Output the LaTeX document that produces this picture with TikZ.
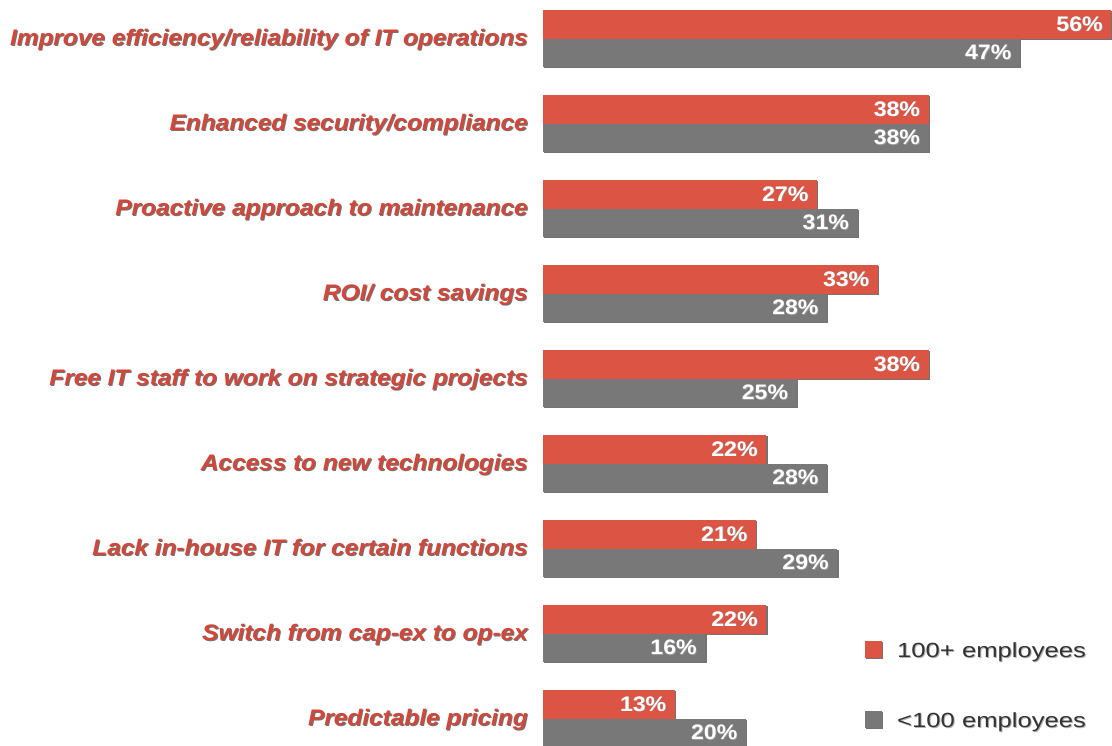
\documentclass[tikz,border=0pt]{standalone}
\usepackage{fontspec}
\setmainfont{Liberation Sans}
\newfontfamily\labfont[FakeStretch=1.085]{Liberation Sans}
\newfontfamily\valfont[FakeStretch=1.1]{Liberation Sans}
\newfontfamily\legfont[FakeStretch=1.25]{Liberation Sans}
\definecolor{barred}{HTML}{DC5443}
\definecolor{bargrey}{HTML}{787878}
\definecolor{labred}{HTML}{D3463A}
\tikzset{
  catlabel/.style={anchor=base east, inner sep=0pt, text=labred,
    font=\labfont\bfseries\itshape\fontsize{22.5}{27}\selectfont},
  catshadow/.style={catlabel, text=black!55},
  vallabel/.style={anchor=base east, inner sep=0pt, text=white,
    font=\valfont\bfseries\fontsize{21}{25}\selectfont},
  valshadow/.style={vallabel, text=black!40},
  leglabel/.style={anchor=base west, inner sep=0pt, text=black!80,
    font=\legfont\fontsize{20.5}{24}\selectfont},
  legshadow/.style={leglabel, text=black!30},
  barshadow/.style={fill=black!55},
  redbar/.style={fill=barred},
  greybar/.style={fill=bargrey},
}
\begin{document}
\begin{tikzpicture}[x=1pt,y=-1pt]
\useasboundingbox (0,0) rectangle (1112,745);
\foreach \i/\lab/\a/\b in {
  0/{Improve efficiency/reliability of IT operations}/56/47,
  1/{Enhanced security/compliance}/38/38,
  2/{Proactive approach to maintenance}/27/31,
  3/{ROI/ cost savings}/33/28,
  4/{Free IT staff to work on strategic projects}/38/25,
  5/{Access to new technologies}/22/28,
  6/{Lack in-house IT for certain functions}/21/29,
  7/{Switch from cap-ex to op-ex}/22/16,
  8/{Predictable pricing}/13/20}{
  \pgfmathsetmacro\yt{10+85*\i}
  \pgfmathsetmacro\ym{38.5+85*\i}
  \pgfmathsetmacro\yb{67+85*\i}
  \pgfmathsetmacro\xa{543+10.15*\a}
  \pgfmathsetmacro\xb{543+10.15*\b}
  \pgfmathsetmacro\yl{45.5+85*\i}
  % bar shadows
  \fill[barshadow] (544.2,\yt+1.2) rectangle (\xa+1.2,\ym+1.2);
  \fill[barshadow] (544.2,\ym+1.2) rectangle (\xb+1.2,\yb+1.2);
  % bars
  \fill[redbar] (543,\yt) rectangle (\xa,\ym);
  \fill[greybar] (543,\ym) rectangle (\xb,\yb);
  % category label
  \node[catshadow] (cs\i) at (529,\yl+1) {\lab};
  \node[catlabel] (c\i) at (528,\yl) {\lab};
  % value labels
  \node[valshadow] (vas\i) at (\xa-7.8,\ym-6.8) {\a\%};
  \node[vallabel] (va\i) at (\xa-8.5,\ym-7.5) {\a\%};
  \node[valshadow] (vbs\i) at (\xb-7.8,\yb-6.8) {\b\%};
  \node[vallabel] (vb\i) at (\xb-8.5,\yb-7.5) {\b\%};
}
% legend
\fill[barshadow] (866,642) rectangle (883,659);
\fill[redbar] (865,641) rectangle (882,658);
\fill[barshadow] (866,712) rectangle (883,729);
\fill[greybar] (865,711) rectangle (882,728);
\node[legshadow] (l1s) at (898,658) {100+ employees};
\node[leglabel] (l1) at (897,657) {100+ employees};
\node[legshadow] (l2s) at (898,728) {<100 employees};
\node[leglabel] (l2) at (897,727) {<100 employees};
\end{tikzpicture}
\end{document}
